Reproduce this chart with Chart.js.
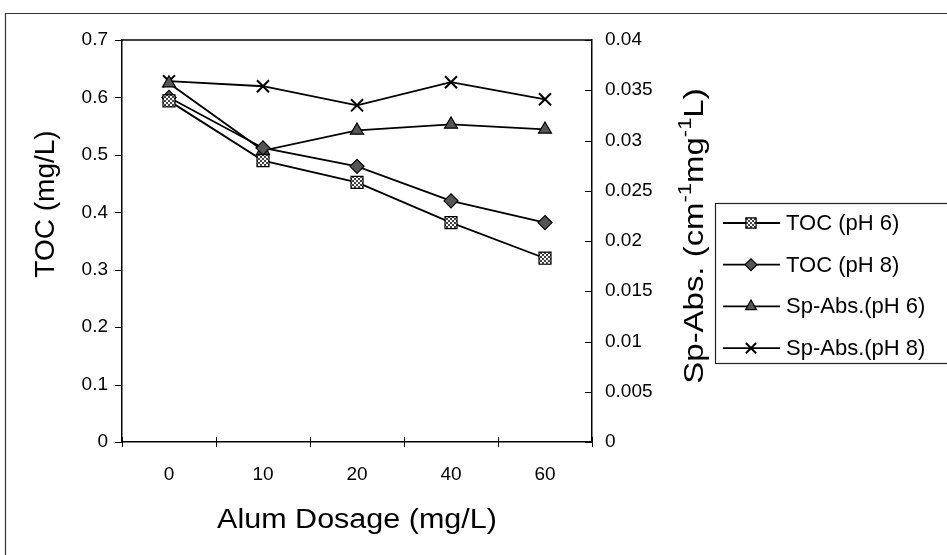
<!DOCTYPE html>
<html><head><meta charset="utf-8">
<script src="https://cdn.jsdelivr.net/npm/chart.js@4/dist/chart.umd.min.js"></script>
<style>html,body{margin:0;padding:0;background:#fff}#wrap{width:947px;height:555px;position:relative}</style>
</head><body><div id="wrap"><canvas id="c" width="947" height="555"></canvas></div>
<script>
// ---- data ----
const categories = ['0', '10', '20', '40', '60'];
const tocPH6 = [0.594, 0.490, 0.452, 0.382, 0.320];
const tocPH8 = [0.600, 0.512, 0.480, 0.420, 0.382];
const spAbsPH6 = [0.0357, 0.0290, 0.0310, 0.0316, 0.0311];
const spAbsPH8 = [0.0359, 0.0354, 0.0335, 0.0358, 0.0341];
const seriesNames = ['TOC (pH 6)', 'TOC (pH 8)', 'Sp-Abs.(pH 6)', 'Sp-Abs.(pH 8)'];
const xTitle = 'Alum Dosage (mg/L)';
const yLeftTitle = 'TOC (mg/L)';
const yRightTitleParts = ['Sp-Abs. (cm', '-1', 'mg', '-1', 'L)'];

const FONT = "'Liberation Sans', Arial, sans-serif";

// checkered fill for squares
const pc = document.createElement('canvas'); pc.width = 4; pc.height = 4;
const pg = pc.getContext('2d');
pg.fillStyle = '#f4f4f4'; pg.fillRect(0, 0, 4, 4);
pg.fillStyle = '#444'; pg.fillRect(0, 0, 2, 2); pg.fillRect(2, 2, 2, 2);
const checker = pg.createPattern(pc, 'repeat');

const styles = [
  {pointStyle: 'rect', radius: 8.5, bg: checker, bw: 1.2},
  {pointStyle: 'rectRot', radius: 7, bg: '#555', bw: 1.2},
  {pointStyle: 'triangle', radius: 7.5, bg: '#555', bw: 1.2},
  {pointStyle: 'crossRot', radius: 8.5, bg: '#000', bw: 2}
];
const seriesData = [tocPH6, tocPH8, spAbsPH6, spAbsPH8];
const seriesAxis = ['y', 'y', 'y1', 'y1'];

const datasets = seriesData.map((d, i) => ({
  label: seriesNames[i],
  data: d,
  yAxisID: seriesAxis[i],
  borderColor: '#000',
  borderWidth: 1.8,
  pointStyle: styles[i].pointStyle,
  pointRadius: styles[i].radius,
  pointBackgroundColor: styles[i].bg,
  pointBorderColor: '#000',
  pointBorderWidth: styles[i].bw,
  tension: 0,
  fill: false
}));

const decor = {
  id: 'decor',
  beforeDraw(chart) {
    const c = chart.ctx;
    c.save(); c.fillStyle = '#fff'; c.fillRect(0, 0, chart.width, chart.height); c.restore();
  },
  beforeDatasetsDraw(chart) {
    const c = chart.ctx, a = chart.chartArea;
    const xs = chart.scales.x, yl = chart.scales.y, yr = chart.scales.y1;
    c.save();
    c.strokeStyle = '#000'; c.lineWidth = 1.5;
    c.beginPath(); c.moveTo(a.left, a.top); c.lineTo(a.right, a.top); c.stroke();
    c.lineWidth = 1;
    yl.ticks.forEach(t => {
      const y = Math.round(yl.getPixelForValue(t.value)) + 0.5;
      c.beginPath(); c.moveTo(a.left - 7, y); c.lineTo(a.left, y); c.stroke();
    });
    yr.ticks.forEach(t => {
      const y = Math.round(yr.getPixelForValue(t.value)) + 0.5;
      c.beginPath(); c.moveTo(a.right - 7, y); c.lineTo(a.right, y); c.stroke();
    });
    const bounds = [a.left];
    for (let i = 0; i < categories.length - 1; i++) {
      bounds.push((xs.getPixelForValue(i) + xs.getPixelForValue(i + 1)) / 2);
    }
    bounds.push(a.right);
    bounds.forEach(x => {
      const xx = Math.round(x) + 0.5;
      c.beginPath(); c.moveTo(xx, a.bottom - 5); c.lineTo(xx, a.bottom + 5); c.stroke();
    });
    c.restore();
  },
  afterDraw(chart) {
    const c = chart.ctx, a = chart.chartArea;
    c.save();
    // outer frame
    c.strokeStyle = '#333'; c.lineWidth = 1.2;
    c.beginPath(); c.moveTo(5.5, chart.height); c.lineTo(5.5, 13.5); c.lineTo(chart.width, 13.5); c.stroke();

    c.fillStyle = '#000';
    // x axis title (slightly wide, like the scanned original)
    c.save();
    c.translate((a.left + a.right) / 2, 521); c.scale(1.13, 1);
    c.font = '27px ' + FONT; c.textAlign = 'center'; c.textBaseline = 'middle';
    c.fillText(xTitle, 0, 0);
    c.restore();

    // left axis title
    c.save();
    c.translate(46, 204); c.rotate(-Math.PI / 2);
    c.font = '28px ' + FONT; c.textAlign = 'center'; c.textBaseline = 'middle';
    c.fillText(yLeftTitle, 0, 0);
    c.restore();

    // right axis title with superscripts
    c.save();
    c.translate(696, 236); c.rotate(-Math.PI / 2); c.scale(1.22, 1);
    c.textBaseline = 'middle'; c.textAlign = 'left';
    const big = '27px ' + FONT, small = '18px ' + FONT;
    let total = 0;
    yRightTitleParts.forEach((p, i) => { c.font = (i % 2 ? small : big); total += c.measureText(p).width; });
    let x = -total / 2;
    yRightTitleParts.forEach((p, i) => {
      c.font = (i % 2 ? small : big);
      c.fillText(p, x, i % 2 ? -10 : 0);
      x += c.measureText(p).width;
    });
    c.restore();

    // legend
    const lx = 715.5, ly = 203.5, lb = 363.5;
    c.fillStyle = '#fff';
    c.fillRect(lx, ly, chart.width - lx + 5, lb - ly);
    c.strokeStyle = '#222'; c.lineWidth = 1.2;
    c.strokeRect(lx, ly, chart.width - lx + 5, lb - ly);
    chart.data.datasets.forEach((ds, i) => {
      const y = 223 + i * 41.7;
      c.strokeStyle = '#000'; c.lineWidth = 1.8;
      c.beginPath(); c.moveTo(723, y); c.lineTo(780, y); c.stroke();
      c.fillStyle = styles[i].bg; c.strokeStyle = '#000'; c.lineWidth = styles[i].bw;
      Chart.helpers.drawPoint(c, {pointStyle: styles[i].pointStyle, radius: styles[i].radius * 0.85, rotation: 0, borderWidth: styles[i].bw}, 751, y);
      c.fillStyle = '#000';
      c.font = '22px ' + FONT; c.textAlign = 'left'; c.textBaseline = 'middle';
      c.fillText(ds.label, 786, y + 1);
    });
    c.restore();
  }
};

new Chart(document.getElementById('c'), {
  type: 'line',
  data: {labels: categories, datasets},
  options: {
    responsive: false,
    animation: false,
    devicePixelRatio: 1,
    layout: {padding: {top: 40, left: 0, right: 0, bottom: 0}},
    plugins: {legend: {display: false}, tooltip: {enabled: false}},
    scales: {
      x: {
        type: 'category', offset: true,
        grid: {display: false, drawTicks: false, offset: true},
        border: {display: true, color: '#000', width: 1.5},
        ticks: {color: '#000', font: {family: FONT, size: 19}, padding: 21, maxRotation: 0},
        afterFit(s) { s.height = 113; }
      },
      y: {
        position: 'left', min: 0, max: 0.7,
        grid: {display: false, drawTicks: false},
        border: {display: true, color: '#000', width: 1.5},
        ticks: {stepSize: 0.1, color: '#000', font: {family: FONT, size: 19}, padding: 14,
          callback: v => String(+v.toFixed(1))},
        afterFit(s) { s.width = 122; }
      },
      y1: {
        position: 'right', min: 0, max: 0.04,
        grid: {display: false, drawTicks: false},
        border: {display: true, color: '#000', width: 1.5},
        ticks: {stepSize: 0.005, color: '#000', font: {family: FONT, size: 19}, padding: 13,
          callback: v => String(+v.toFixed(3))},
        afterFit(s) { s.width = 355; }
      }
    }
  },
  plugins: [decor]
});
</script>
</body></html>
